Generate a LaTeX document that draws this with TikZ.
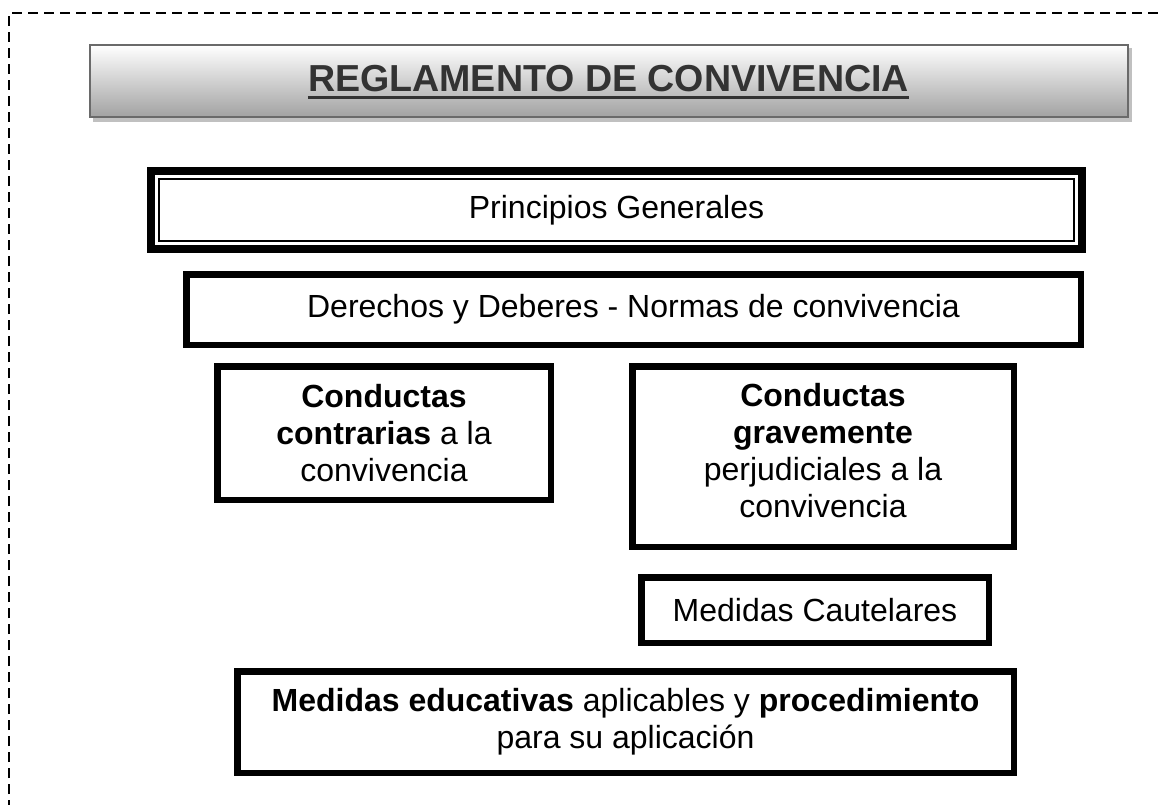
\documentclass[tikz,border=0pt]{standalone}
\usepackage{fontspec}
\setmainfont{Liberation Sans}
\definecolor{titletext}{HTML}{333333}
\definecolor{titleborder}{HTML}{6A6A6A}
\definecolor{shadowgray}{HTML}{C0C0C0}
\definecolor{shadebottom}{HTML}{A2A2A2}
\begin{document}
\begin{tikzpicture}[x=1pt,y=-1pt,
  boxs/.style={draw=black, line width=6.5pt, inner sep=0pt, outer sep=0pt, align=center,
    font=\fontsize{32}{37}\selectfont, fill=white},
  txt/.style={inner sep=0pt, align=center, font=\fontsize{32}{37}\selectfont},
]
\useasboundingbox (0,0) rectangle (1159,805);
% dashed frame
\draw[line width=2pt, dash pattern=on 10pt off 6pt] (9,810) -- (9,13) -- (1165,13);
% title
\fill[shadowgray] (93,48) rectangle (1132,122);
\node[draw=titleborder, line width=2pt, top color=white, bottom color=shadebottom,
  minimum width=1038pt, minimum height=72pt, inner sep=0pt] (title) at (609,81) {};
\node[inner sep=0pt, anchor=base, text=titletext, font=\fontsize{37.6}{42}\selectfont\bfseries]
  (tt) at (608.5,92) {REGLAMENTO DE CONVIVENCIA};
\draw[line width=3pt, titletext] ([yshift=-5.5pt]tt.base west) -- ([yshift=-5.5pt]tt.base east);
% Principios Generales (double border)
\node[boxs, line width=8pt, minimum width=931pt, minimum height=78pt] (pg) at (616.5,210) {};
\draw[line width=2.5pt] ([shift={(7.8pt,-7.8pt)}]pg.north west) rectangle ([shift={(-7.8pt,7.8pt)}]pg.south east);
\node[txt] (pgt) at (616.5,210) {Principios Generales};
% Derechos
\node[boxs, minimum width=894.5pt, minimum height=70.5pt] (dd) at (633.5,309.5)
  {Derechos y Deberes - Normas de convivencia};
% Conductas contrarias
\node[boxs, minimum width=333.5pt, minimum height=133.5pt] (cc) at (384,433)
  {\textbf{Conductas}\\\textbf{contrarias} a la\\convivencia};
% Conductas gravemente
\node[boxs, minimum width=381.5pt, minimum height=180.5pt] (cg) at (823,456.5) {};
\node[txt] (cgt) at (823,451)
  {\textbf{Conductas}\\\textbf{gravemente}\\perjudiciales a la\\convivencia};
% Medidas cautelares
\node[boxs, minimum width=347.5pt, minimum height=65.5pt] (mc) at (815,610)
  {Medidas Cautelares};
% Medidas educativas
\node[boxs, minimum width=776.5pt, minimum height=101.5pt] (me) at (625.5,722)
  {\textbf{Medidas educativas} aplicables y \textbf{procedimiento}\\para su aplicación};
\end{tikzpicture}
\end{document}
